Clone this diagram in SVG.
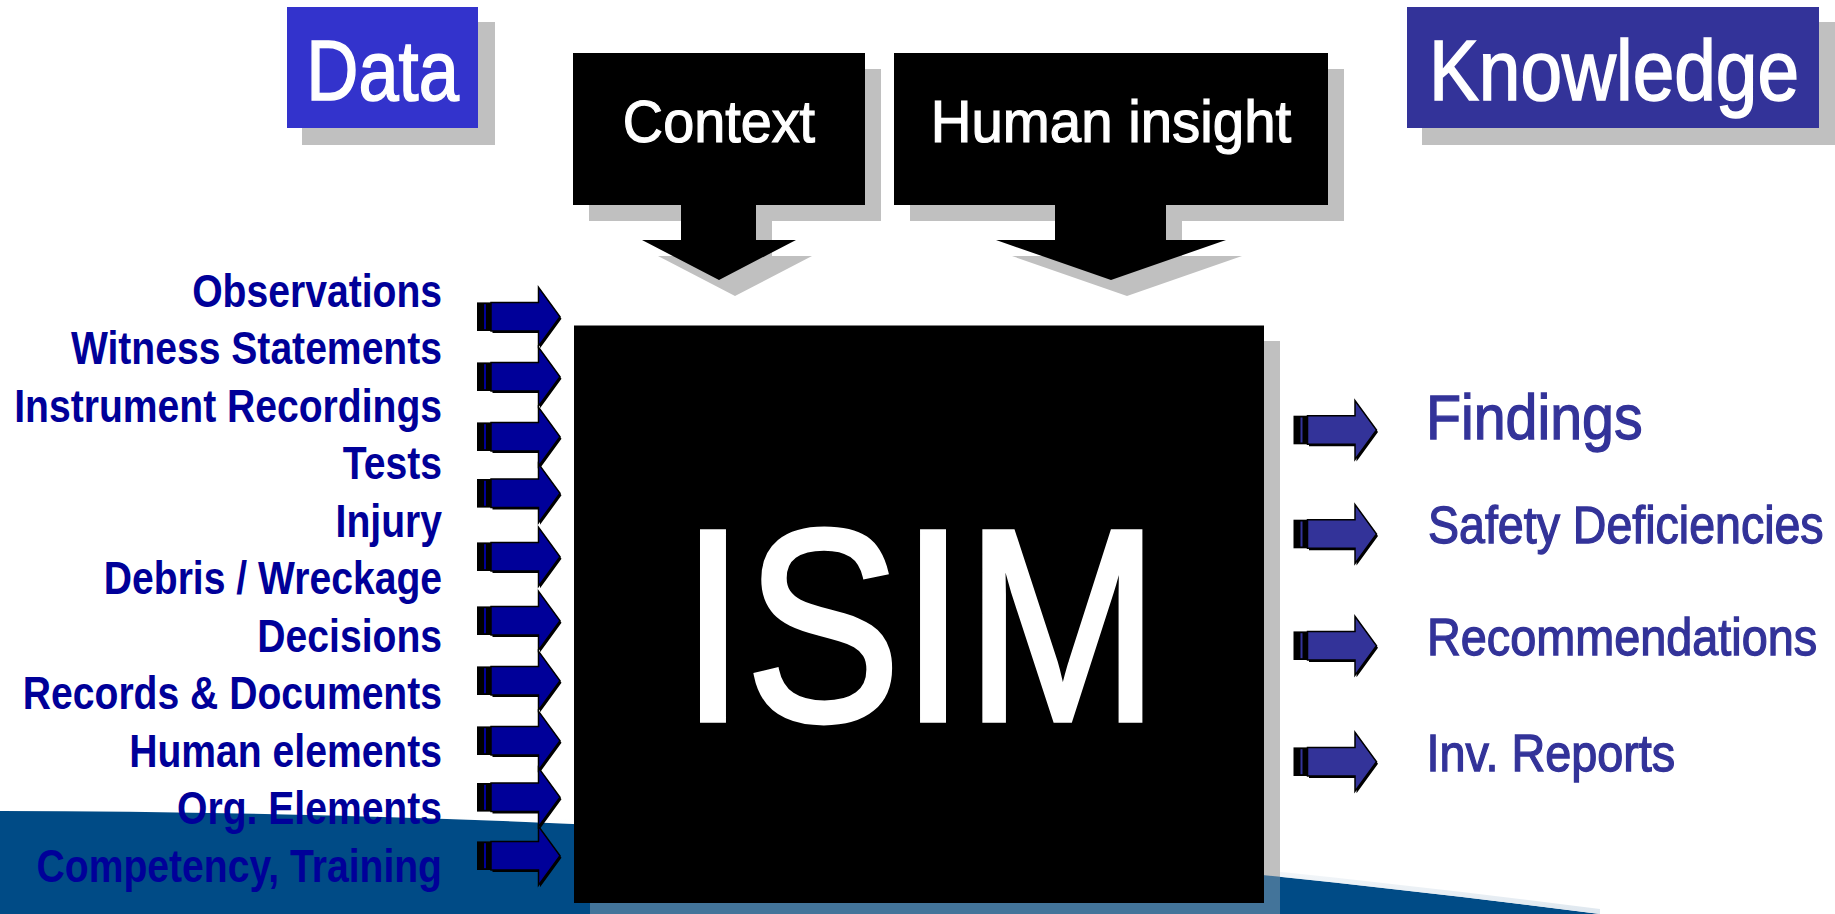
<svg xmlns="http://www.w3.org/2000/svg" width="1835" height="914" viewBox="0 0 1835 914">
<style>
.shd{fill:#C0C0C0}
.ttl{font-family:"Liberation Sans",Arial,sans-serif;font-size:85px;fill:#FFFFFF;stroke:#FFFFFF;stroke-width:1.6px;text-anchor:middle}
.top{font-family:"Liberation Sans",Arial,sans-serif;font-size:60px;fill:#FFFFFF;stroke:#FFFFFF;stroke-width:1.2px;text-anchor:middle}
.lbl{font-family:"Liberation Sans",Arial,sans-serif;font-weight:bold;font-size:46px;fill:#000099;text-anchor:end}
.out{font-family:"Liberation Sans",Arial,sans-serif;font-size:52px;fill:#333399;stroke:#333399;stroke-width:1.3px}
.big{font-size:63px}
</style>
<defs>
<g id="arrowL">
<polygon points="15.5,-12.3 63,-12.3 63,-27.5 84.5,2 63,31.5 63,16.3 15.5,16.3" fill="#000000"/>
<rect x="0" y="-14.3" width="14" height="28.6" fill="#000000"/>
<rect x="7" y="-12.5" width="2" height="25" fill="#000099"/>
<polygon points="14,-14.3 61.5,-14.3 61.5,-29.5 83,0 61.5,29.5 61.5,14.3 14,14.3" fill="#000099" stroke="#000000" stroke-width="1.5" stroke-linejoin="miter"/>
</g>
<g id="arrowR">
<polygon points="15.5,-12.3 63,-12.3 63,-27.5 84.5,2 63,31.5 63,16.3 15.5,16.3" fill="#000000"/>
<rect x="0" y="-14.3" width="14" height="28.6" fill="#000000"/>
<rect x="7" y="-12.5" width="2" height="25" fill="#333399"/>
<polygon points="14,-14.3 61.5,-14.3 61.5,-29.5 83,0 61.5,29.5 61.5,14.3 14,14.3" fill="#333399" stroke="#000000" stroke-width="1.5" stroke-linejoin="miter"/>
</g>
<clipPath id="isimShadowClip">
<rect x="590" y="341" width="690" height="578"/>
</clipPath>
<linearGradient id="bandEdge" x1="0" y1="0" x2="0" y2="1">
<stop offset="0" stop-color="#FFFFFF" stop-opacity="0"/>
<stop offset="1" stop-color="#DDE6EE" stop-opacity="1"/>
</linearGradient>
</defs>

<rect x="0" y="0" width="1835" height="914" fill="#FFFFFF"/>

<g id="background">
<path d="M0,811 C600,812 1100,850 1600,914 L0,914 Z" fill="#004B86"/>
<path d="M0,806 C600,807 1100,845 1600,909 L1600,914 C1100,850 600,812 0,811 Z" fill="url(#bandEdge)"/>
</g>

<g id="data">
<rect class="shd" x="302" y="22" width="193" height="123"/>
<rect x="287" y="7" width="191" height="121" fill="#3333CC"/>
<text class="ttl" transform="translate(382.5,100) scale(0.85,1)">Data</text>
</g>

<g id="knowledge">
<rect class="shd" x="1422" y="22" width="413" height="123"/>
<rect x="1407" y="7" width="412" height="121" fill="#333399"/>
<text class="ttl" transform="translate(1614,100) scale(0.88,1)">Knowledge</text>
</g>

<g id="context">
<polygon class="shd" transform="translate(16,16)" points="573,53 865,53 865,205 756,205 756,240 796,240 719,280 642,240 681,240 681,205 573,205"/>
<polygon fill="#000000" points="573,53 865,53 865,205 756,205 756,240 796,240 719,280 642,240 681,240 681,205 573,205"/>
<text class="top" transform="translate(719,142) scale(0.93,1)">Context</text>
</g>

<g id="human-insight">
<polygon class="shd" transform="translate(16,16)" points="894,53 1328,53 1328,205 1166,205 1166,240 1226,240 1111,280 996,240 1055,240 1055,205 894,205"/>
<polygon fill="#000000" points="894,53 1328,53 1328,205 1166,205 1166,240 1226,240 1111,280 996,240 1055,240 1055,205 894,205"/>
<text class="top" transform="translate(1111,142) scale(0.94,1)">Human insight</text>
</g>

<g id="isim">
<rect class="shd" x="590" y="341" width="690" height="578"/>
<path clip-path="url(#isimShadowClip)" d="M0,811 C600,812 1100,850 1600,914 L0,914 Z" fill="#004B86" opacity="0.65"/>
<rect x="574" y="325" width="690" height="578" fill="#000000"/>
<line x1="574" y1="325.5" x2="1264" y2="325.5" stroke="#808080" stroke-width="1"/>
<text transform="translate(920,720.2) scale(0.85,1)" font-family="'Liberation Sans',Arial,sans-serif" font-size="274" fill="#FFFFFF" stroke="#FFFFFF" stroke-width="5" text-anchor="middle">ISIM</text>
</g>

<g id="inputs">
<g id="in-observations"><text class="lbl" transform="translate(442,306.5) scale(0.85,1)">Observations</text></g>
<g id="in-witness"><text class="lbl" transform="translate(442,364) scale(0.85,1)">Witness Statements</text></g>
<g id="in-instrument"><text class="lbl" transform="translate(442,421.5) scale(0.85,1)">Instrument Recordings</text></g>
<g id="in-tests"><text class="lbl" transform="translate(442,479) scale(0.85,1)">Tests</text></g>
<g id="in-injury"><text class="lbl" transform="translate(442,536.5) scale(0.85,1)">Injury</text></g>
<g id="in-debris"><text class="lbl" transform="translate(442,594) scale(0.85,1)">Debris / Wreckage</text></g>
<g id="in-decisions"><text class="lbl" transform="translate(442,651.5) scale(0.85,1)">Decisions</text></g>
<g id="in-records"><text class="lbl" transform="translate(442,709) scale(0.85,1)">Records &amp; Documents</text></g>
<g id="in-human"><text class="lbl" transform="translate(442,766.5) scale(0.85,1)">Human elements</text></g>
<g id="in-org"><text class="lbl" transform="translate(442,824) scale(0.85,1)">Org. Elements</text></g>
<g id="in-competency"><text class="lbl" transform="translate(442,881.5) scale(0.85,1)">Competency, Training</text></g>
</g>

<g id="outputs">
<g id="out-findings"><text class="out big" transform="translate(1426,439.3) scale(0.91,1)">Findings</text></g>
<g id="out-safety"><text class="out" transform="translate(1428,543.3) scale(0.895,1)">Safety Deficiencies</text></g>
<g id="out-recommendations"><text class="out" transform="translate(1427,655) scale(0.9,1)">Recommendations</text></g>
<g id="out-reports"><text class="out" transform="translate(1426.5,770.7) scale(0.9,1)">Inv. Reports</text></g>
</g>

<g id="connectors">
<use href="#arrowL" x="477" y="316.7"/>
<use href="#arrowL" x="477" y="376.7"/>
<use href="#arrowL" x="477" y="436.7"/>
<use href="#arrowL" x="477" y="493.3"/>
<use href="#arrowL" x="477" y="556.7"/>
<use href="#arrowL" x="477" y="620.7"/>
<use href="#arrowL" x="477" y="680.7"/>
<use href="#arrowL" x="477" y="740.7"/>
<use href="#arrowL" x="477" y="797.3"/>
<use href="#arrowL" x="477" y="855.7"/>
<use href="#arrowR" x="1293.5" y="430"/>
<use href="#arrowR" x="1293.5" y="534"/>
<use href="#arrowR" x="1293.5" y="645.7"/>
<use href="#arrowR" x="1293.5" y="761.7"/>
</g>
</svg>
